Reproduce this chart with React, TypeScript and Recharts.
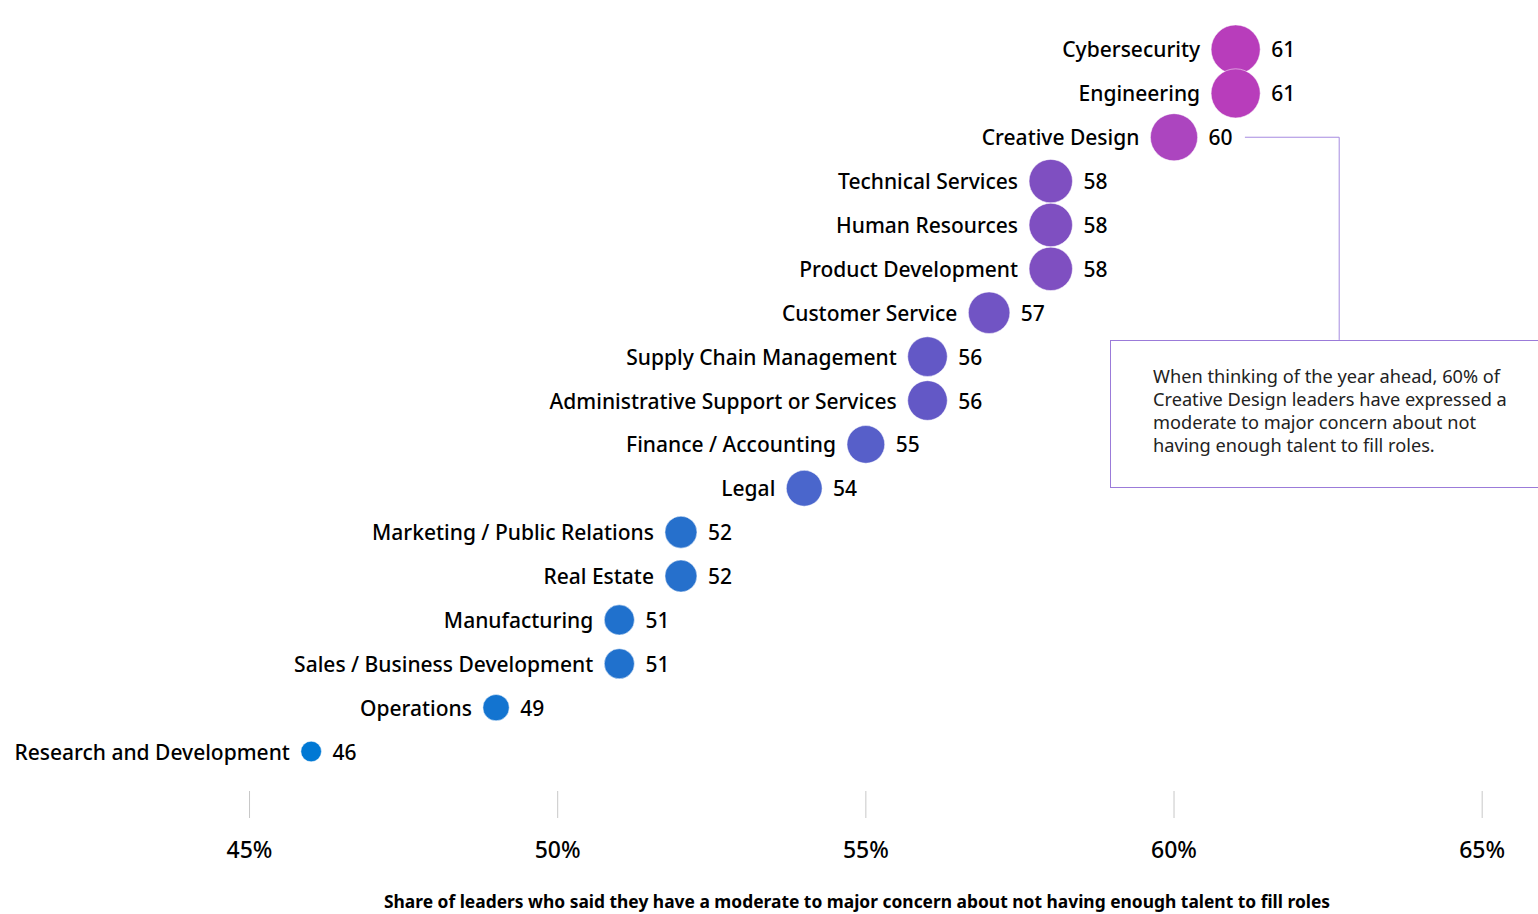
import React from "react";
import { ScatterChart, Scatter, XAxis, YAxis, ReferenceLine } from "recharts";

const categories = [
  "Cybersecurity",
  "Engineering",
  "Creative Design",
  "Technical Services",
  "Human Resources",
  "Product Development",
  "Customer Service",
  "Supply Chain Management",
  "Administrative Support or Services",
  "Finance / Accounting",
  "Legal",
  "Marketing / Public Relations",
  "Real Estate",
  "Manufacturing",
  "Sales / Business Development",
  "Operations",
  "Research and Development",
];

const values = [61, 61, 60, 58, 58, 58, 57, 56, 56, 55, 54, 52, 52, 51, 51, 49, 46];

const tickValues = [45, 50, 55, 60, 65];

const axisTitle =
  "Share of leaders who said they have a moderate to major concern about not having enough talent to fill roles";

const annotationText =
  "When thinking of the year ahead, 60% of Creative Design leaders have expressed a moderate to major concern about not having enough talent to fill roles.";

const data = categories.map((name, i) => ({ name, value: values[i], idx: i }));

const FONT = "'Noto Sans', 'Open Sans', sans-serif";

const colorStops: [number, string][] = [
  [46, "#0078D4"],
  [52, "#2670CC"],
  [54, "#4A66CC"],
  [56, "#6358C6"],
  [58, "#7F4FC1"],
  [60, "#AC45BF"],
  [61, "#B83DBB"],
];

function hexToRgb(h: string) {
  const n = parseInt(h.slice(1), 16);
  return [(n >> 16) & 255, (n >> 8) & 255, n & 255];
}

function colorFor(v: number) {
  if (v <= colorStops[0][0]) return colorStops[0][1];
  for (let i = 1; i < colorStops.length; i++) {
    const [v1, c1] = colorStops[i];
    const [v0, c0] = colorStops[i - 1];
    if (v <= v1) {
      const t = (v - v0) / (v1 - v0);
      const a = hexToRgb(c0);
      const b = hexToRgb(c1);
      const m = a.map((x, k) => Math.round(x + (b[k] - x) * t));
      return `rgb(${m[0]},${m[1]},${m[2]})`;
    }
  }
  return colorStops[colorStops.length - 1][1];
}

function radiusFor(v: number) {
  return 10.3 + (v - 46) * 0.95;
}

const BubbleShape = (props: any) => {
  const { cx, cy, payload } = props;
  if (cx == null || cy == null) return null;
  const r = radiusFor(payload.value);
  return (
    <g>
      <circle cx={cx} cy={cy} r={r} fill={colorFor(payload.value)} stroke="#fff" strokeWidth={0.5} />
      <text
        x={cx - r - 11}
        y={cy}
        textAnchor="end"
        dominantBaseline="central"
        fontFamily={FONT}
        fontSize={21}
        fontWeight={500}
        fill="#000"
      >
        {payload.name}
      </text>
      <text
        x={cx + r + 11}
        y={cy}
        textAnchor="start"
        dominantBaseline="central"
        fontFamily={FONT}
        fontSize={21}
        fontWeight={500}
        fill="#000"
      >
        {payload.value}
      </text>
    </g>
  );
};

export default function App() {
  return (
    <div
      style={{
        position: "absolute",
        left: 0,
        top: 0,
        width: 1538,
        height: 914,
        overflow: "hidden",
        background: "#fff",
        fontFamily: FONT,
      }}
    >
      <ScatterChart width={1538} height={914} margin={{ top: 10, right: 25, bottom: 23, left: 3 }}>
        <XAxis
          type="number"
          dataKey="value"
          domain={[41, 65.5]}
          ticks={tickValues}
          allowDataOverflow
          height={100}
          axisLine={false}
          tickSize={27}
          tickMargin={24}
          tickLine={{ stroke: "#C8C8C8", strokeWidth: 1 }}
          tick={{ fontSize: 23, fill: "#000", fontFamily: FONT, fontWeight: 500 }}
          tickFormatter={(v: number) => `${v}%`}
        />
        <YAxis type="number" dataKey="idx" domain={[-0.9, 16.9]} reversed hide allowDataOverflow />
        <ReferenceLine
          segment={[
            { x: 61.15, y: 2 },
            { x: 62.68, y: 2 },
          ]}
          stroke="#A68BE0"
          strokeWidth={1}
        />
        <ReferenceLine
          segment={[
            { x: 62.68, y: 2 },
            { x: 62.68, y: 6.62 },
          ]}
          stroke="#A68BE0"
          strokeWidth={1}
        />
        <Scatter data={data} shape={BubbleShape} isAnimationActive={false} />
      </ScatterChart>
      <div
        style={{
          position: "absolute",
          left: 1110,
          top: 340,
          width: 460,
          height: 148,
          border: "1px solid #9B7BD9",
          boxSizing: "border-box",
          background: "#fff",
        }}
      >
        <div
          style={{
            position: "absolute",
            left: 42,
            top: 24,
            width: 362,
            fontSize: 18.2,
            lineHeight: "23px",
            color: "#222",
          }}
        >
          {annotationText}
        </div>
      </div>
      <div
        style={{
          position: "absolute",
          left: 857,
          top: 889,
          transform: "translateX(-50%)",
          whiteSpace: "nowrap",
          fontSize: 17.4,
          fontWeight: 700,
          color: "#000",
        }}
      >
        {axisTitle}
      </div>
    </div>
  );
}
